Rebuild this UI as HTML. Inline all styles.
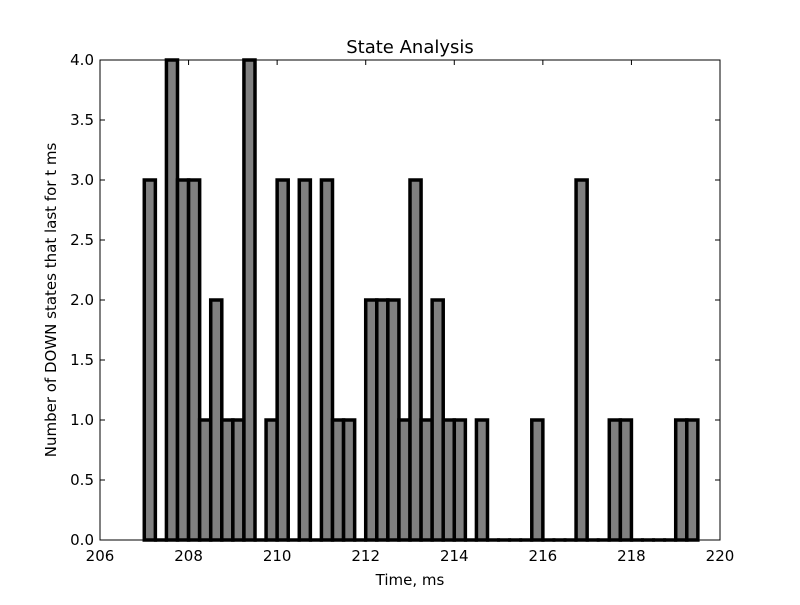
<!DOCTYPE html>
<html><head><meta charset="utf-8"><style>
body{margin:0;background:#fff}
svg text{font-family:"DejaVu Sans","Liberation Sans",sans-serif;fill:#000}
</style></head><body>
<svg id="chart" width="800" height="600" xmlns="http://www.w3.org/2000/svg">
<rect width="800" height="600" fill="#fff"/>
<g id="bars"></g>
<g id="axes"></g>
<text x="410" y="53" font-size="18" text-anchor="middle">State Analysis</text>
<text x="410" y="585" font-size="15" text-anchor="middle">Time, ms</text>
<text transform="translate(56,300) rotate(-90)" font-size="15" text-anchor="middle">Number of DOWN states that last for t ms</text>
</svg>
<script>
const binStart = 207.0;
const binWidth = 0.25;
const counts = [3,0,4,3,3,1,2,1,1,4,0,1,3,0,3,0,3,1,1,0,2,2,2,1,3,1,2,1,1,0,1,0,0,0,0,1,0,0,0,3,0,0,1,1,0,0,0,0,1,1];
const xTicks = [206,208,210,212,214,216,218,220];
const yTicks = [0,0.5,1,1.5,2,2.5,3,3.5,4];

const L=100,R=720,T=60,B=540,xMin=206,xMax=220,yMin=0,yMax=4;
const sx=v=>L+(v-xMin)/(xMax-xMin)*(R-L);
const sy=v=>B-(v-yMin)/(yMax-yMin)*(B-T);
const NS="http://www.w3.org/2000/svg";
const bars=document.getElementById('bars'), axes=document.getElementById('axes');
function mk(tag,attrs,parent){const e=document.createElementNS(NS,tag);for(const k in attrs)e.setAttribute(k,attrs[k]);parent.appendChild(e);return e;}

counts.forEach((c,i)=>{
  const x0=sx(binStart+i*binWidth), x1=sx(binStart+(i+1)*binWidth);
  let r;
  if(c>0){
    r=mk('rect',{x:x0,y:sy(c),width:x1-x0,height:sy(0)-sy(c),fill:'#808080',stroke:'#000','stroke-width':3.5},bars);
  } else {
    r=mk('line',{x1:x0-1.5,x2:x1+1.5,y1:sy(0),y2:sy(0),stroke:'#000','stroke-width':3.5},bars);
  }
  
  
});

const frame=mk('rect',{x:L,y:T,width:R-L,height:B-T,fill:'none',stroke:'#000','stroke-width':1},axes);



xTicks.forEach(v=>{
  const x=sx(v);
  mk('line',{x1:x,x2:x,y1:B,y2:B-5,stroke:'#000'},axes);
  mk('line',{x1:x,x2:x,y1:T,y2:T+5,stroke:'#000'},axes);
  const t=mk('text',{x:x,y:B+21,'font-size':15,'text-anchor':'middle'},axes);
  t.textContent=v;
  
  
});
yTicks.forEach(v=>{
  const y=sy(v);
  mk('line',{x1:L,x2:L+5,y1:y,y2:y,stroke:'#000'},axes);
  mk('line',{x1:R,x2:R-5,y1:y,y2:y,stroke:'#000'},axes);
  const t=mk('text',{x:L-6,y:y+5,'font-size':15,'text-anchor':'end'},axes);
  t.textContent=v.toFixed(1);
  
  
});
</script>
</body></html>
